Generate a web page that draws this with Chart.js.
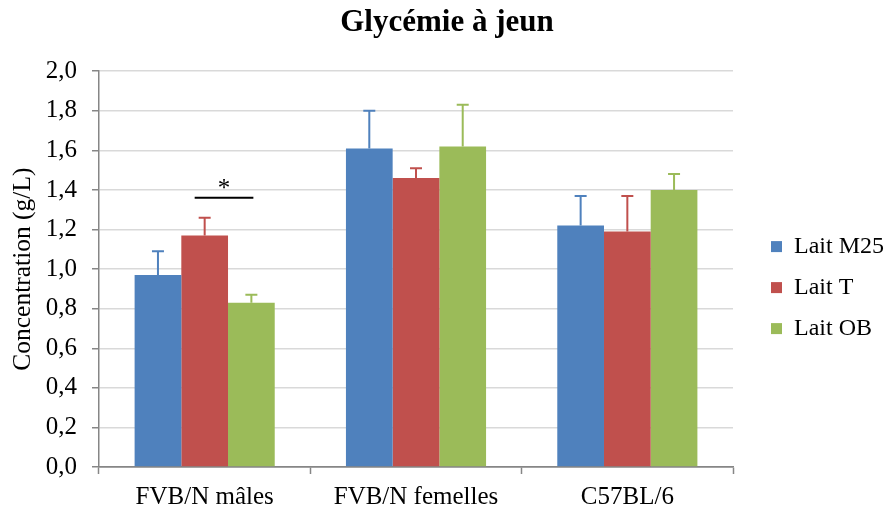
<!DOCTYPE html>
<html>
<head>
<meta charset="utf-8">
<script src="https://cdn.jsdelivr.net/npm/chart.js@4/dist/chart.umd.min.js"></script>
<style>
  body { margin: 0; background: #fff; }
  #wrap { width: 894px; height: 513px; }
</style>
</head>
<body>
<div id="wrap"><canvas id="glyChart"></canvas></div>
<script>
// groupes de souris
const categories = ['FVB/N mâles', 'FVB/N femelles', 'C57BL/6'];

// glycémie moyenne (g/L) et erreur (barre haute)
const laitM25 = [0.97, 1.61, 1.22];
const laitM25Err = [0.12, 0.19, 0.15];
const laitT = [1.17, 1.46, 1.19];
const laitTErr = [0.09, 0.05, 0.18];
const laitOB = [0.83, 1.62, 1.40];
const laitOBErr = [0.04, 0.21, 0.08];

const yTicks = [0, 0.2, 0.4, 0.6, 0.8, 1.0, 1.2, 1.4, 1.6, 1.8, 2.0];

// significativité : groupe 0, entre Lait T (1) et Lait OB (2)
const sigGroup = 0;
const sigFrom = 1;
const sigTo = 2;
const sigLevel = 1.36;
const sigLabel = '*';

const serif = "'Liberation Serif', 'Times New Roman', serif";

const errorBars = {
  id: 'errorBars',
  afterDatasetsDraw(chart) {
    const ctx = chart.ctx;
    const y = chart.scales.y;
    ctx.save();
    chart.data.datasets.forEach((ds, i) => {
      const meta = chart.getDatasetMeta(i);
      meta.data.forEach((bar, j) => {
        const top = y.getPixelForValue(ds.data[j] + ds.errors[j]);
        const base = y.getPixelForValue(ds.data[j]);
        ctx.strokeStyle = ds.backgroundColor;
        ctx.lineWidth = 2;
        ctx.beginPath();
        ctx.moveTo(bar.x, base);
        ctx.lineTo(bar.x, top);
        ctx.moveTo(bar.x - 6, top);
        ctx.lineTo(bar.x + 6, top);
        ctx.stroke();
      });
    });

    // trait + étoile
    const a = chart.getDatasetMeta(sigFrom).data[sigGroup];
    const b = chart.getDatasetMeta(sigTo).data[sigGroup];
    const ly = y.getPixelForValue(sigLevel);
    const x1 = a.x - 10, x2 = b.x + 2;
    ctx.strokeStyle = '#000';
    ctx.lineWidth = 2;
    ctx.beginPath();
    ctx.moveTo(x1, ly);
    ctx.lineTo(x2, ly);
    ctx.stroke();
    ctx.fillStyle = '#000';
    ctx.font = '25px ' + serif;
    ctx.textAlign = 'center';
    ctx.textBaseline = 'alphabetic';
    ctx.fillText(sigLabel, (x1 + x2) / 2, ly - 2);
    ctx.restore();
  }
};

new Chart(document.getElementById('glyChart'), {
  type: 'bar',
  data: {
    labels: categories,
    datasets: [
      { label: 'Lait M25', data: laitM25, errors: laitM25Err, backgroundColor: '#4f81bd' },
      { label: 'Lait T', data: laitT, errors: laitTErr, backgroundColor: '#c0504d' },
      { label: 'Lait OB', data: laitOB, errors: laitOBErr, backgroundColor: '#9bbb59' }
    ]
  },
  options: {
    responsive: true,
    maintainAspectRatio: false,
    animation: false,
    datasets: {
      bar: { categoryPercentage: 0.663, barPercentage: 1, borderWidth: 0 }
    },
    layout: { padding: { left: 0, right: 0, top: 0, bottom: 0 } },
    scales: {
      x: {
        grid: {
          display: true,
          drawOnChartArea: false,
          offset: true,
          tickLength: 7,
          tickColor: '#868686',
          tickWidth: 1.5
        },
        border: { color: '#868686', width: 1.5 },
        ticks: {
          color: '#000',
          padding: 8,
          font: { family: serif, size: 25 }
        },
        afterFit(s) { s.height = 46; }
      },
      y: {
        min: 0,
        max: 2,
        afterBuildTicks(s) { s.ticks = yTicks.map(v => ({ value: v })); },
        grid: {
          color: c => (c.tick && c.tick.value === 0) ? '#868686' : '#d9d9d9',
          lineWidth: 1.5,
          tickLength: 7,
          tickColor: '#868686',
          tickWidth: 1.5
        },
        border: { color: '#868686', width: 1.5 },
        ticks: {
          color: '#000',
          padding: 15,
          font: { family: serif, size: 25 },
          callback: v => v.toFixed(1).replace('.', ',')
        },
        title: {
          display: true,
          text: 'Concentration (g/L)',
          color: '#000',
          font: { family: serif, size: 25.5 },
          padding: { top: 8, bottom: 0 }
        },
        afterFit(s) { s.width = 99; }
      },
      gap: {
        position: 'right',
        display: true,
        grid: { display: false },
        border: { display: false },
        ticks: { display: false },
        afterFit(s) { s.width = 21; }
      }
    },
    plugins: {
      title: {
        display: true,
        text: 'Glycémie à jeun',
        color: '#000',
        font: { family: serif, size: 31, weight: 'bold' },
        padding: { top: 4, bottom: 30 }
      },
      legend: {
        position: 'right',
        title: { display: true, text: '', font: { size: 1 }, padding: { top: 61, bottom: 0 } },
        labels: {
          boxWidth: 11,
          boxHeight: 11,
          padding: 17,
          color: '#000',
          font: { family: serif, size: 24 }
        }
      },
      tooltip: { enabled: false }
    }
  },
  plugins: [errorBars]
});
</script>
</body>
</html>
